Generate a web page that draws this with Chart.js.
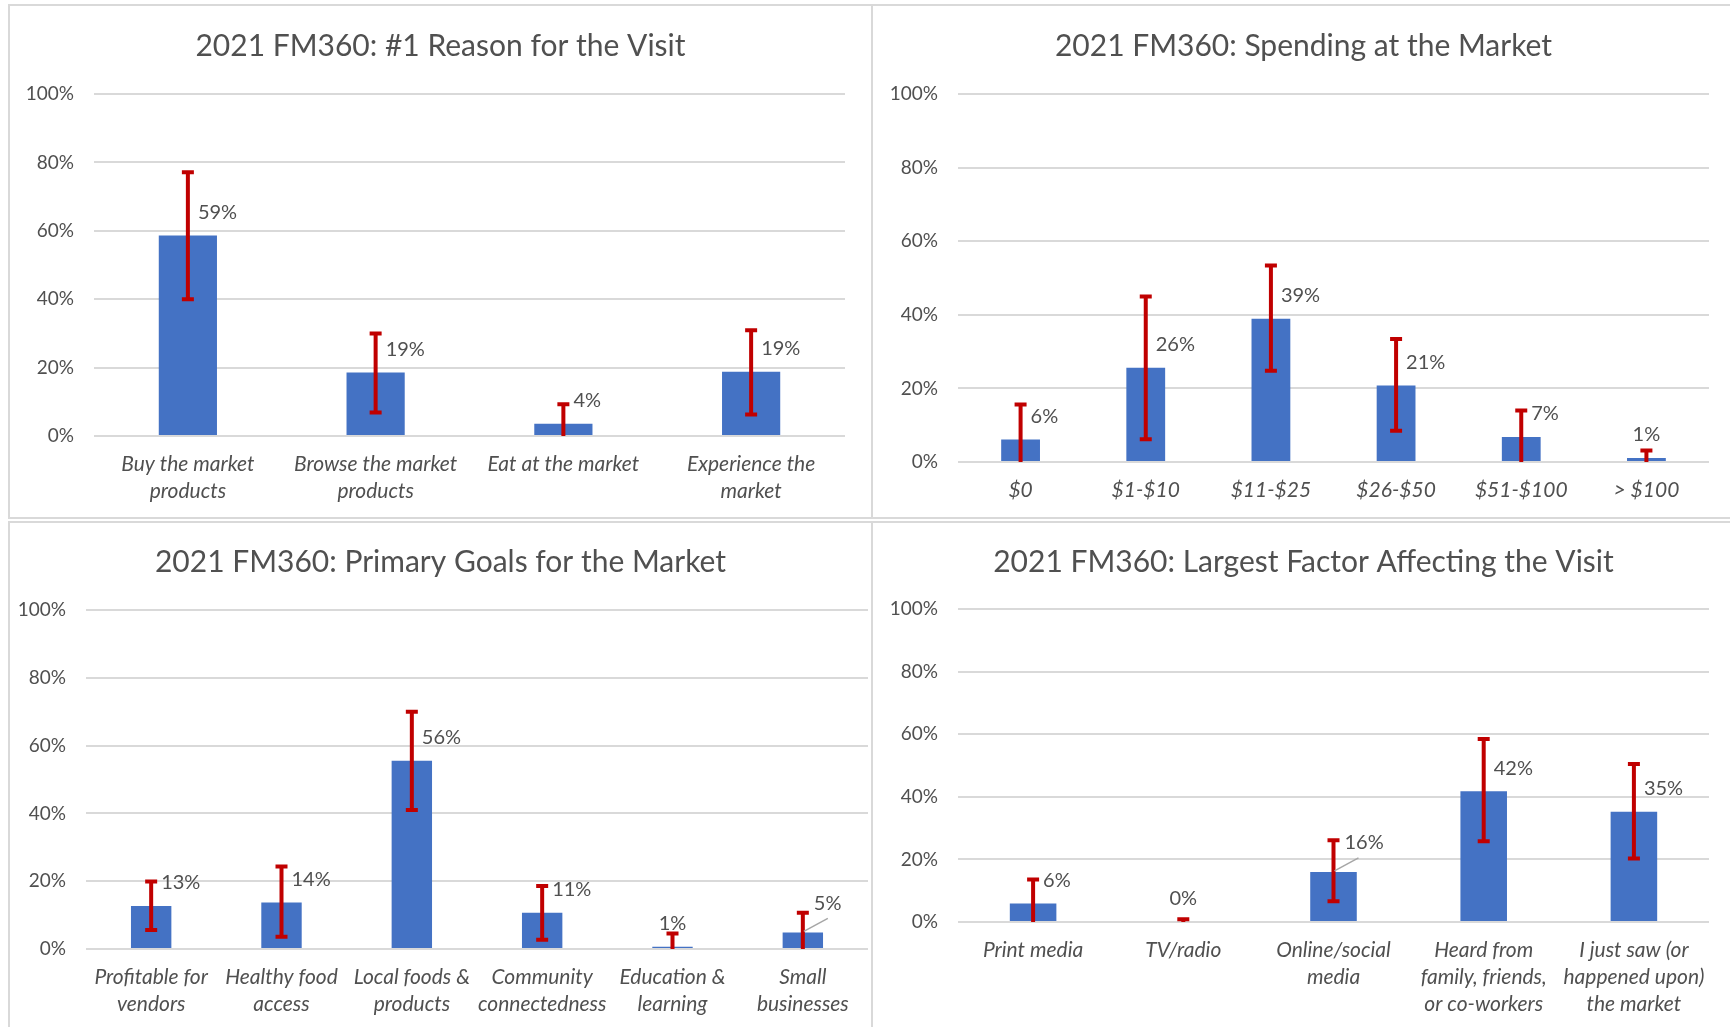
<!DOCTYPE html>
<html>
<head>
<meta charset="utf-8">
<script src="https://cdn.jsdelivr.net/npm/chart.js@4.4.1/dist/chart.umd.min.js"></script>
<style>
  html, body { margin: 0; padding: 0; background: #fff; width: 1730px; height: 1027px; overflow: hidden; }
  .panel { position: absolute; border: 2px solid #d9d9d9; background: #fff; }
  .panel canvas { display: block; }
</style>
</head>
<body>
<div class="panel" style="left:8px;top:4px;width:861px;height:511px"><canvas id="reason" width="861" height="511"></canvas></div>
<div class="panel" style="left:871px;top:4px;width:861px;height:511px"><canvas id="spending" width="861" height="511"></canvas></div>
<div class="panel" style="left:8px;top:521px;width:861px;height:511px"><canvas id="goals" width="861" height="511"></canvas></div>
<div class="panel" style="left:871px;top:521px;width:861px;height:511px"><canvas id="factor" width="861" height="511"></canvas></div>
<script>
// values in percent
const reasonCats = [['Buy the market', 'products'], ['Browse the market', 'products'], 'Eat at the market', ['Experience the', 'market']];
const reasonValues = [58.6, 18.6, 3.6, 18.8];
const reasonErrLow = [40.0, 6.9, 0, 6.3];
const reasonErrHigh = [77.1, 30.0, 9.3, 30.9];

const spendCats = ['$0', '$1-$10', '$11-$25', '$26-$50', '$51-$100', '> $100'];
const spendValues = [6.1, 25.6, 38.9, 20.8, 6.8, 1.1];
const spendErrLow = [0, 6.2, 24.8, 8.5, 0, 0];
const spendErrHigh = [15.6, 45.0, 53.4, 33.4, 14.0, 3.1];

const goalCats = [['Profitable for', 'vendors'], ['Healthy food', 'access'], ['Local foods &', 'products'], ['Community', 'connectedness'], ['Education &', 'learning'], ['Small', 'businesses']];
const goalValues = [12.7, 13.7, 55.5, 10.7, 0.7, 4.9];
const goalErrLow = [5.6, 3.6, 41.0, 2.7, 0, 0];
const goalErrHigh = [19.9, 24.3, 70.0, 18.6, 4.6, 10.7];

const factorCats = ['Print media', 'TV/radio', ['Online/social', 'media'], ['Heard from', 'family, friends,', 'or co-workers'], ['I just saw (or', 'happened upon)', 'the market']];
const factorValues = [5.9, 0, 16.0, 41.8, 35.2];
const factorErrLow = [0, 0, 6.6, 25.8, 20.3];
const factorErrHigh = [13.6, 0.9, 26.1, 58.5, 50.5];

const yTicks = [0, 20, 40, 60, 80, 100];

const FONT = 'Lato, "Open Sans", sans-serif';
const TEXT = '#505050';

// error bars + data labels, drawn on top of the bars
const errLabels = {
    id: 'errLabels',
    afterDatasetsDraw(chart, args, opts) {
        const ctx = chart.ctx;
        const y = chart.scales.y;
        const ds = chart.data.datasets[0];
        const meta = chart.getDatasetMeta(0);
        const leaders = opts.leaders || [];
        meta.data.forEach((bar, i) => {
            const cx = bar.x;
            const yHi = y.getPixelForValue(ds.errHigh[i]);
            const yLo = y.getPixelForValue(Math.max(ds.errLow[i], 0));
            ctx.save();
            ctx.strokeStyle = '#C00000';
            ctx.lineWidth = 4;
            ctx.beginPath();
            ctx.moveTo(cx, yLo);
            ctx.lineTo(cx, yHi);
            ctx.moveTo(cx - 6, yHi);
            ctx.lineTo(cx + 6, yHi);
            if (ds.errLow[i] > 0) {
                ctx.moveTo(cx - 6, yLo);
                ctx.lineTo(cx + 6, yLo);
            }
            ctx.stroke();

            const v = ds.data[i];
            const top = y.getPixelForValue(v);
            const txt = Math.round(v) + '%';
            ctx.font = '20px ' + FONT;
            ctx.fillStyle = TEXT;
            ctx.textBaseline = 'middle';
            if (leaders.includes(i)) {
                ctx.strokeStyle = '#a6a6a6';
                ctx.lineWidth = 1.5;
                ctx.beginPath();
                ctx.moveTo(cx + 1, top - 1);
                ctx.lineTo(cx + 25, top - 14);
                ctx.stroke();
                ctx.textAlign = 'left';
                ctx.fillText(txt, cx + 11, top - 29);
            } else if (v < 2) {
                ctx.textAlign = 'center';
                ctx.fillText(txt, cx, top - 23);
            } else {
                ctx.textAlign = 'left';
                ctx.fillText(txt, cx + 10, top - 23);
            }
            ctx.restore();
        });
    }
};

function makeChart(id, title, cats, values, errLow, errHigh, lay) {
    const ctx = document.getElementById(id).getContext('2d');
    return new Chart(ctx, {
        type: 'bar',
        data: {
            labels: cats,
            datasets: [{
                data: values,
                errLow: errLow,
                errHigh: errHigh,
                backgroundColor: '#4472C4',
                borderWidth: 0,
                categoryPercentage: 1,
                barPercentage: 0.31
            }]
        },
        options: {
            responsive: false,
            animation: false,
            layout: { padding: 0 },
            scales: {
                x: {
                    grid: { display: false, drawTicks: false },
                    border: { display: false },
                    ticks: {
                        color: TEXT, padding: 15, maxRotation: 0, autoSkip: false,
                        font: { family: FONT, size: 21, style: 'italic', lineHeight: '27px' }
                    },
                    afterFit: s => { s.height = lay.xHeight; }
                },
                y: {
                    min: 0, max: 100,
                    afterBuildTicks: s => { s.ticks = yTicks.map(v => ({ value: v })); },
                    grid: { color: '#d9d9d9', lineWidth: 2, drawTicks: false },
                    border: { display: false },
                    ticks: { color: TEXT, padding: 20, font: { family: FONT, size: 19 }, callback: v => v + '%' },
                    afterFit: s => { s.width = lay.left; }
                },
                // empty right-hand axis, only keeps the gap right of the plot
                gap: {
                    position: 'right', min: 0, max: 100,
                    grid: { display: false, drawTicks: false },
                    border: { display: false },
                    ticks: { display: false },
                    afterFit: s => { s.width = lay.right; }
                }
            },
            plugins: {
                legend: { display: false },
                tooltip: { enabled: false },
                title: {
                    display: true, text: title, color: TEXT,
                    font: { family: FONT, size: 30, weight: 'normal', lineHeight: 1.2 },
                    padding: { top: lay.titleTop, bottom: lay.titleBottom }
                },
                errLabels: { leaders: lay.leaders || [] }
            }
        },
        plugins: [errLabels]
    });
}

makeChart('reason', '2021 FM360: #1 Reason for the Visit', reasonCats, reasonValues, reasonErrLow, reasonErrHigh,
    { left: 84, right: 26, xHeight: 81, titleTop: 22, titleBottom: 30 });
makeChart('spending', '2021 FM360: Spending at the Market', spendCats, spendValues, spendErrLow, spendErrHigh,
    { left: 85, right: 25, xHeight: 55, titleTop: 22, titleBottom: 30 });
makeChart('goals', '2021 FM360: Primary Goals for the Market', goalCats, goalValues, goalErrLow, goalErrHigh,
    { left: 76, right: 3, xHeight: 85, titleTop: 21, titleBottom: 30, leaders: [5] });
makeChart('factor', '2021 FM360: Largest Factor Affecting the Visit', factorCats, factorValues, factorErrLow, factorErrHigh,
    { left: 85, right: 25, xHeight: 112, titleTop: 21, titleBottom: 29, leaders: [2] });
</script>
</body>
</html>
